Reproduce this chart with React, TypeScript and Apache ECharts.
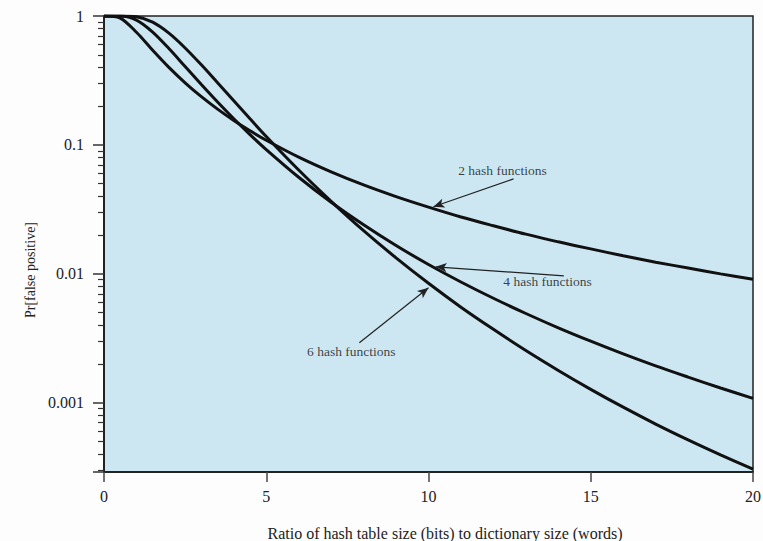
import React, { useEffect, useRef } from "react";
import * as echarts from "echarts";

const ratios = [0, 0.5, 1, 1.5, 2, 2.5, 3, 3.5, 4, 4.5, 5, 6, 7, 8, 9, 10, 11, 12, 13, 14, 15, 16, 17, 18, 19, 20];
const hash2 = [1, 0.9637, 0.7476, 0.5423, 0.3996, 0.3032, 0.2367, 0.1895, 0.1548, 0.1287, 0.1087, 0.0804, 0.0618, 0.0489, 0.0397, 0.0329, 0.0276, 0.0236, 0.0203, 0.0177, 0.0156, 0.0138, 0.0123, 0.0111, 0.00999, 0.00906];
const hash4 = [1, 0.9987, 0.9288, 0.7497, 0.559, 0.4057, 0.2941, 0.2152, 0.1597, 0.1203, 0.092, 0.0561, 0.0359, 0.024, 0.01657, 0.01181, 0.00864, 0.00646, 0.00492, 0.00381, 0.003, 0.00239, 0.00193, 0.00158, 0.0013, 0.00108];
const hash6 = [1, 1, 0.9852, 0.8951, 0.7358, 0.5651, 0.418, 0.3037, 0.2204, 0.1595, 0.1162, 0.0638, 0.0365, 0.0216, 0.01329, 0.00844, 0.00551, 0.00371, 0.00254, 0.00178, 0.00127, 0.000923, 0.000683, 0.000515, 0.000394, 0.000305];

const xTicks = [0, 5, 10, 15, 20];
const yTickLabels = ["1", "0.1", "0.01", "0.001"];

// annotation labels: [x, y, text]
const annotationLabels: [number, number, string][] = [
  [12.28, 0.0629, "2 hash functions"],
  [13.67, 0.00867, "4 hash functions"],
  [7.62, 0.00249, "6 hash functions"],
];
// arrows: from [x, y] to [x, y]
const arrowFrom: [number, number][] = [
  [12.62, 0.0545],
  [14.17, 0.00965],
  [7.87, 0.00292],
];
const arrowTo: [number, number][] = [
  [10.15, 0.0331],
  [10.22, 0.01133],
  [10.0, 0.00779],
];

const FONT = "'Liberation Serif', 'DejaVu Serif', serif";

export default function App() {
  const ref = useRef<HTMLDivElement>(null);
  useEffect(() => {
    if (!ref.current) return;
    const chart = echarts.init(ref.current, null, { renderer: "svg" });
    const mk = (vals: number[]) => ratios.map((x, i) => [x, vals[i]]);
    const lineStyle = { color: "#111", width: 3 };
    chart.setOption({
      animation: false,
      backgroundColor: "#fdfdfd",
      grid: {
        left: 104,
        right: 10,
        top: 16,
        bottom: 69,
        outerBoundsMode: "none",
        containLabel: false,
        show: true,
        backgroundColor: "#cce7f2",
        borderColor: "#222",
        borderWidth: 1.5,
      },
      xAxis: {
        type: "value",
        min: 0,
        max: 20,
        interval: 5,
        splitLine: { show: false },
        axisLine: { show: true, lineStyle: { color: "#222", width: 2 } },
        axisTick: { show: true, length: 10, lineStyle: { color: "#444", width: 1.5 } },
        axisLabel: {
          margin: 16,
          fontFamily: FONT,
          fontSize: 16,
          color: "#222",
          formatter: (v: number) => (xTicks.includes(v) ? String(v) : ""),
        },
        name: "Ratio of hash table size (bits) to dictionary size (words)",
        nameLocation: "middle",
        nameGap: 53,
        nameTextStyle: { fontFamily: FONT, fontSize: 16, color: "#222", padding: [0, 0, 0, 33] },
      },
      yAxis: {
        type: "log",
        min: 0.00029,
        max: 1,
        logBase: 10,
        splitLine: { show: false },
        axisLine: { show: true, lineStyle: { color: "#222", width: 2 } },
        axisTick: { show: true, length: 11, lineStyle: { color: "#333", width: 1.5 } },
        minorTick: { show: true, splitNumber: 9, length: 6, lineStyle: { color: "#333", width: 1.2 } },
        axisLabel: {
          margin: 20,
          showMinLabel: false,
          fontFamily: FONT,
          fontSize: 16,
          color: "#222",
          formatter: (v: number) => {
            const s = String(+v.toPrecision(3));
            return yTickLabels.includes(s) ? s : "";
          },
        },
        name: "Pr[false positive]",
        nameLocation: "middle",
        nameGap: 66,
        nameTextStyle: { fontFamily: FONT, fontSize: 14, color: "#222", padding: [0, 52, 0, 0] },
      },
      series: [
        { type: "line", data: mk(hash2), smooth: 0.3, showSymbol: false, lineStyle, silent: true },
        { type: "line", data: mk(hash4), smooth: 0.3, showSymbol: false, lineStyle, silent: true },
        {
          type: "line",
          data: mk(hash6),
          smooth: 0.3,
          showSymbol: false,
          lineStyle,
          silent: true,
          markLine: {
            silent: true,
            symbol: ["none", "arrow"],
            symbolSize: [7, 11],
            label: { show: false },
            lineStyle: { color: "#222", width: 1.2, type: "solid" },
            data: arrowFrom.map((f, i) => [{ coord: f }, { coord: arrowTo[i] }]),
          },
        },
        {
          type: "scatter",
          silent: true,
          symbolSize: 0,
          data: annotationLabels.map((a) => ({ value: [a[0], a[1]], name: a[2] })),
          label: {
            show: true,
            position: "inside",
            formatter: (p: any) => p.name,
            fontFamily: FONT,
            fontSize: 13.5,
            color: "#111",
          },
        },
      ],
    });
    return () => chart.dispose();
  }, []);
  return <div ref={ref} style={{ position: "fixed", left: 0, top: 0, width: 763, height: 541 }} />;
}
